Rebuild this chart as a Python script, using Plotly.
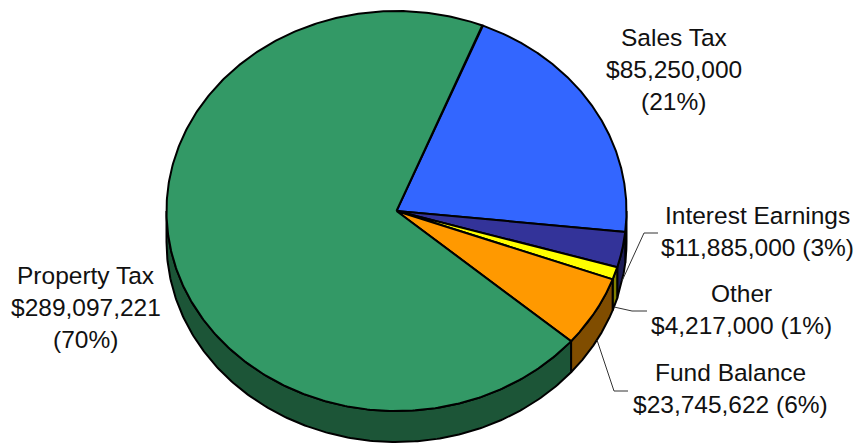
import numpy as np
import plotly.graph_objects as go

# Revenue sources, clockwise from the start of the sales tax slice
categories = ["Sales Tax", "Interest Earnings", "Other", "Fund Balance", "Property Tax"]
amounts = [85250000, 11885000, 4217000, 23745622, 289097221]

top_colors = ["#3366FF", "#333399", "#FFFF00", "#FF9900", "#339966"]
side_colors = ["#1C388C", "#1C1C55", "#808000", "#804D00", "#1C5537"]

# Pie geometry in page pixels
CX, CY, RX, RY, DEPTH = 396.5, 211.0, 230.0, 200.0, 31.0
START_DEG = 21.9
FONT = "Liberation Sans"
SIZE = 24.5

# Line-by-line label placement (centre x, centre y per line)
label_layout = {
    "Sales Tax": (673.5, [37, 69, 101]),
    "Interest Earnings": (757, [215, 247]),
    "Other": (741.5, [293, 325]),
    "Fund Balance": (730, [372, 404]),
    "Property Tax": (85.5, [275, 307, 339]),
}

# Leader lines from labels to their slices
leaders = {
    "Interest Earnings": ([658, 644, 622], [233, 233, 281]),
    "Other": ([647, 632, 614], [311, 311, 307]),
    "Fund Balance": ([628, 614, 597], [391, 391, 340]),
}


def rim(t):
    return CX + RX * np.sin(t), CY - RY * np.cos(t)


total = sum(amounts)
edges = np.radians(START_DEG + np.cumsum([0] + amounts) / total * 360)

fig = go.Figure()


def add_poly(x, y, color):
    fig.add_trace(go.Scatter(
        x=x, y=y, mode="lines", fill="toself", fillcolor=color,
        line=dict(color="#000000", width=2), hoverinfo="skip", showlegend=False,
    ))


# Side walls: only the part of the rim facing the viewer is visible
for i in range(len(amounts)):
    a = max(edges[i], np.pi / 2)
    b = min(edges[i + 1], 3 * np.pi / 2)
    if b <= a:
        continue
    t = np.linspace(a, b, 200)
    x, y = rim(t)
    add_poly(np.r_[x, x[::-1], x[0]], np.r_[y, y[::-1] + DEPTH, y[0]], side_colors[i])

# Top faces
for i in range(len(amounts)):
    t = np.linspace(edges[i], edges[i + 1], 400)
    x, y = rim(t)
    add_poly(np.r_[CX, x, CX], np.r_[CY, y, CY], top_colors[i])

for xs, ys in leaders.values():
    fig.add_trace(go.Scatter(
        x=xs, y=ys, mode="lines", line=dict(color="#333333", width=1),
        hoverinfo="skip", showlegend=False,
    ))

# Each label states name, dollar amount and share of the total
for name, value in zip(categories, amounts):
    money = f"${value:,}"
    pct = f"({value / total * 100:.0f}%)"
    cx, ys = label_layout[name]
    lines = [name, money, pct] if len(ys) == 3 else [name, f"{money} {pct}"]
    for line, y in zip(lines, ys):
        fig.add_annotation(
            x=cx, y=y, text=line, showarrow=False, xanchor="center", yanchor="middle",
            font=dict(family=FONT, size=SIZE, color="#111111"),
        )

fig.update_layout(
    width=859, height=443, margin=dict(l=0, r=0, t=0, b=0),
    paper_bgcolor="#FFFFFF", plot_bgcolor="#FFFFFF", showlegend=False,
    xaxis=dict(range=[0, 859], visible=False, fixedrange=True),
    yaxis=dict(range=[443, 0], visible=False, fixedrange=True),
)

fig.write_html("out.html", config=dict(displayModeBar=False))
